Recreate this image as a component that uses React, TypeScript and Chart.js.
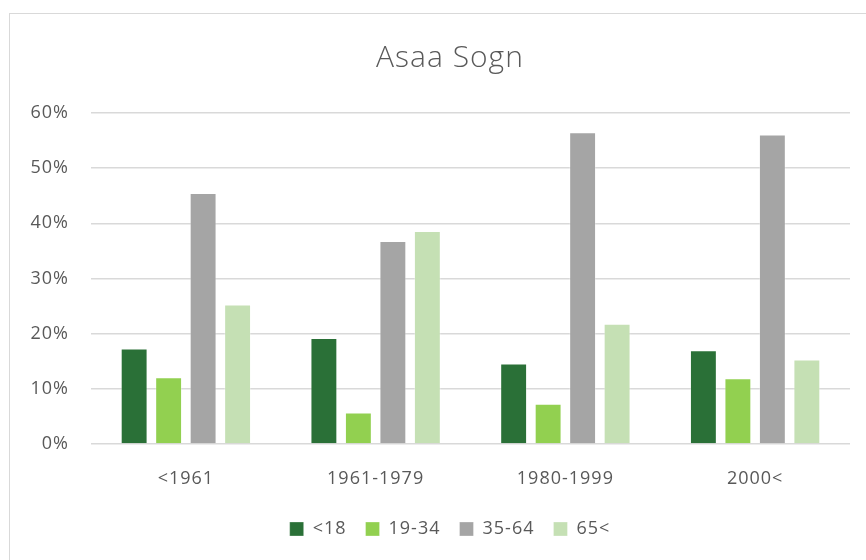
import React, { useEffect, useRef } from "react";
import { Chart, registerables } from "chart.js";

Chart.register(...registerables);

const chartTitle = "Asaa Sogn";
const categories = ["<1961", "1961-1979", "1980-1999", "2000<"];
const seriesNames = ["<18", "19-34", "35-64", "65<"];
const under18 = [17.3, 19.2, 14.6, 17.0];
const age19to34 = [12.1, 5.7, 7.3, 11.9];
const age35to64 = [45.5, 36.8, 56.5, 56.1];
const over65 = [25.3, 38.6, 21.8, 15.3];
const yMin = 0;
const yMax = 60;
const yStep = 10;
const seriesColors = ["#2A7037", "#92D050", "#A5A5A5", "#C5E0B4"];

const textColor = "#595959";
const gridColor = "#D9D9D9";
const fontFamily = "'Open Sans', sans-serif";
const spacing = "1px";

const spacingPlugin = {
  id: "letterSpacing",
  beforeInit(chart: any) {
    chart.ctx.letterSpacing = spacing;
  },
  beforeUpdate(chart: any) {
    chart.ctx.letterSpacing = spacing;
  },
  beforeDraw(chart: any) {
    chart.ctx.letterSpacing = spacing;
  },
};

export default function App() {
  const canvasRef = useRef<HTMLCanvasElement | null>(null);

  useEffect(() => {
    if (!canvasRef.current) return;
    const values = [under18, age19to34, age35to64, over65];
    const chart = new Chart(canvasRef.current, {
      type: "bar",
      data: {
        labels: categories,
        datasets: seriesNames.map((name, i) => ({
          label: name,
          data: values[i],
          backgroundColor: seriesColors[i],
          borderColor: "rgba(255,255,255,0.3)",
          borderWidth: 1,
          categoryPercentage: 0.727,
          barPercentage: 0.78,
        })),
      },
      plugins: [spacingPlugin],
      options: {
        animation: false,
        responsive: false,
        maintainAspectRatio: false,
        layout: { padding: { left: 0, right: 0, top: 0, bottom: 12 } },
        plugins: {
          title: {
            display: true,
            text: chartTitle,
            color: textColor,
            font: { family: fontFamily, size: 30, weight: "300" as any },
            padding: { top: 40, bottom: 37 },
          },
          legend: {
            position: "bottom",
            labels: {
              boxWidth: 14,
              boxHeight: 14,
              padding: 19,
              color: textColor,
              font: { family: fontFamily, size: 18 },
            },
          },
          tooltip: { enabled: false },
        },
        scales: {
          x: {
            grid: { display: false, drawTicks: false },
            border: { display: false },
            ticks: {
              color: textColor,
              font: { family: fontFamily, size: 18 },
              padding: 24,
              maxRotation: 0,
            },
            afterFit(scale: any) {
              scale.height = 57;
            },
          },
          y: {
            min: yMin,
            max: yMax,
            grid: { color: gridColor, lineWidth: 1.5, drawTicks: false },
            border: { display: false },
            ticks: {
              stepSize: yStep,
              color: textColor,
              font: { family: fontFamily, size: 18 },
              padding: 22,
              callback: (v: any) => `${v}%`,
            },
            afterFit(scale: any) {
              scale.width = 91;
            },
          },
          yRightSpace: {
            type: "linear",
            position: "right",
            display: true,
            min: yMin,
            max: yMax,
            grid: { display: false, drawTicks: false },
            border: { display: false },
            ticks: { display: false },
            afterFit(scale: any) {
              scale.width = 50;
            },
          },
        },
      },
    });
    return () => chart.destroy();
  }, []);

  return (
    <div
      style={{
        position: "fixed",
        left: 0,
        top: 0,
        width: 866,
        height: 560,
        background: "#ffffff",
        overflow: "hidden",
      }}
    >
      <div
        style={{
          position: "absolute",
          left: 9,
          top: 13,
          width: 900,
          height: 600,
          borderTop: "1.5px solid #D9D9D9",
          borderLeft: "1.5px solid #D9D9D9",
        }}
      />
      <canvas
        ref={canvasRef}
        width={900}
        height={560}
        style={{ position: "absolute", left: 0, top: 0, width: 900, height: 560 }}
      />
    </div>
  );
}
